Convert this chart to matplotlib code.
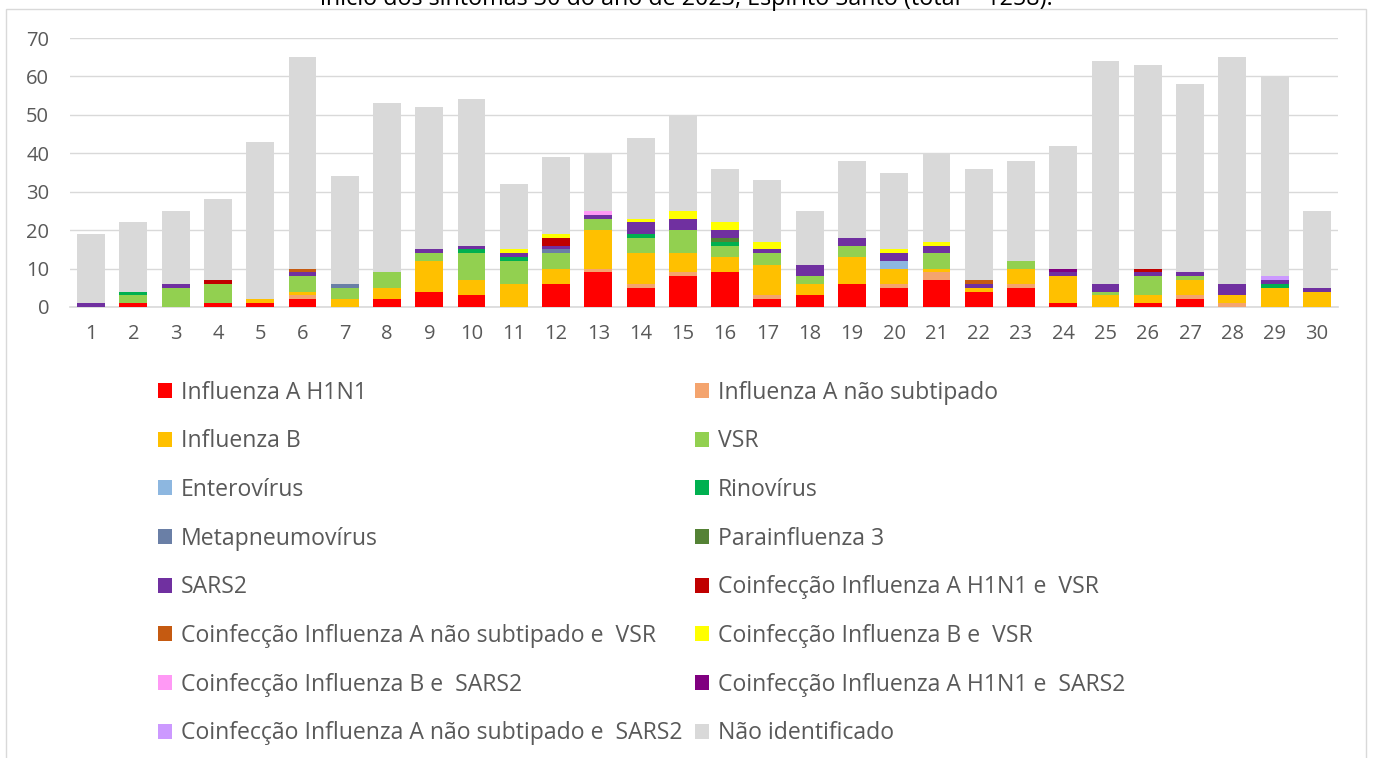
import matplotlib
matplotlib.use("Agg")
import matplotlib.pyplot as plt
import numpy as np
from matplotlib.patches import Rectangle, Patch

semanas = [str(i) for i in range(1, 31)]

h1n1 = [0, 1, 0, 1, 1, 2, 0, 2, 4, 3, 0, 6, 9, 5, 8, 9, 2, 3, 6, 5, 7, 4, 5, 1, 0, 1, 2, 0, 0, 0]
a_nao_sub = [0, 0, 0, 0, 0, 1, 0, 0, 0, 0, 0, 0, 1, 1, 1, 0, 1, 0, 0, 1, 2, 0, 1, 0, 0, 0, 1, 1, 0, 0]
infl_b = [0, 0, 0, 0, 1, 1, 2, 3, 8, 4, 6, 4, 10, 8, 5, 4, 8, 3, 7, 4, 1, 1, 4, 7, 3, 2, 4, 2, 5, 4]
vsr = [0, 2, 5, 5, 0, 4, 3, 4, 2, 7, 6, 4, 3, 4, 6, 3, 3, 2, 3, 0, 4, 0, 2, 0, 1, 5, 1, 0, 0, 0]
entero = [0, 0, 0, 0, 0, 0, 0, 0, 0, 0, 0, 0, 0, 0, 0, 0, 0, 0, 0, 2, 0, 0, 0, 0, 0, 0, 0, 0, 0, 0]
rino = [0, 1, 0, 0, 0, 0, 0, 0, 0, 1, 1, 0, 0, 1, 0, 1, 0, 0, 0, 0, 0, 0, 0, 0, 0, 0, 0, 0, 1, 0]
metapneumo = [0, 0, 0, 0, 0, 0, 1, 0, 0, 0, 0, 1, 0, 0, 0, 0, 0, 0, 0, 0, 0, 0, 0, 0, 0, 0, 0, 0, 0, 0]
parainf3 = [0, 0, 0, 0, 0, 0, 0, 0, 0, 0, 0, 0, 0, 0, 0, 1, 0, 0, 0, 0, 0, 0, 0, 0, 0, 0, 0, 0, 0, 0]
sars2 = [1, 0, 1, 0, 0, 1, 0, 0, 1, 1, 1, 1, 1, 3, 3, 2, 1, 3, 2, 2, 2, 1, 0, 1, 2, 1, 1, 3, 1, 1]
co_h1n1_vsr = [0, 0, 0, 1, 0, 0, 0, 0, 0, 0, 0, 2, 0, 0, 0, 0, 0, 0, 0, 0, 0, 0, 0, 0, 0, 1, 0, 0, 0, 0]
co_ans_vsr = [0, 0, 0, 0, 0, 1, 0, 0, 0, 0, 0, 0, 0, 0, 0, 0, 0, 0, 0, 0, 0, 1, 0, 0, 0, 0, 0, 0, 0, 0]
co_b_vsr = [0, 0, 0, 0, 0, 0, 0, 0, 0, 0, 1, 1, 0, 1, 2, 2, 2, 0, 0, 1, 1, 0, 0, 0, 0, 0, 0, 0, 0, 0]
co_b_sars2 = [0, 0, 0, 0, 0, 0, 0, 0, 0, 0, 0, 0, 1, 0, 0, 0, 0, 0, 0, 0, 0, 0, 0, 0, 0, 0, 0, 0, 0, 0]
co_h1n1_sars2 = [0, 0, 0, 0, 0, 0, 0, 0, 0, 0, 0, 0, 0, 0, 0, 0, 0, 0, 0, 0, 0, 0, 0, 1, 0, 0, 0, 0, 0, 0]
co_ans_sars2 = [0, 0, 0, 0, 0, 0, 0, 0, 0, 0, 0, 0, 0, 0, 0, 0, 0, 0, 0, 0, 0, 0, 0, 0, 0, 0, 0, 0, 1, 0]
nao_ident = [18, 18, 19, 21, 41, 55, 28, 44, 37, 38, 17, 20, 15, 21, 25, 14, 16, 14, 20, 20, 23, 29, 26, 32, 58, 53, 49, 59, 52, 20]

series = [
    ("Influenza A H1N1", h1n1, "#FF0000"),
    ("Influenza A não subtipado", a_nao_sub, "#F4A46E"),
    ("Influenza B", infl_b, "#FFC000"),
    ("VSR", vsr, "#92D050"),
    ("Enterovírus", entero, "#8DB7E0"),
    ("Rinovírus", rino, "#00B050"),
    ("Metapneumovírus", metapneumo, "#6A7FA6"),
    ("Parainfluenza 3", parainf3, "#548235"),
    ("SARS2", sars2, "#7030A0"),
    ("Coinfecção Influenza A H1N1 e  VSR", co_h1n1_vsr, "#C00000"),
    ("Coinfecção Influenza A não subtipado e  VSR", co_ans_vsr, "#C55A11"),
    ("Coinfecção Influenza B e  VSR", co_b_vsr, "#FFFF00"),
    ("Coinfecção Influenza B e  SARS2", co_b_sars2, "#FF99F5"),
    ("Coinfecção Influenza A H1N1 e  SARS2", co_h1n1_sars2, "#800080"),
    ("Coinfecção Influenza A não subtipado e  SARS2", co_ans_sars2, "#CC99FF"),
    ("Não identificado", nao_ident, "#D9D9D9"),
]

plt.rcParams['font.family'] = ['Open Sans', 'DejaVu Sans']
texto = '#595959'

W, H = 1373, 758
fig = plt.figure(figsize=(W / 100, H / 100), dpi=100)
ax = fig.add_axes([70 / W, 1 - 307 / H, (1338 - 70) / W, (307 - 38) / H])

# borda do grafico
fig.patches.append(Rectangle((6 / W, -0.1), (1366 - 6) / W, 1.1 - 9 / H,
                             transform=fig.transFigure, fill=False,
                             edgecolor='#D9D9D9', linewidth=1))

x = np.arange(1, 31)
base = np.zeros(30)
for nome, vals, cor in series:
    vals = np.array(vals)
    ax.bar(x, vals, width=0.66, bottom=base, color=cor, label=nome, zorder=3)
    base = base + vals

ax.set_xlim(0.5, 30.5)
ax.set_ylim(0, 70)
ax.set_yticks(range(0, 71, 10))
ax.set_xticks(x)
ax.set_xticklabels(semanas)
ax.grid(axis='y', color='#D9D9D9', linewidth=1, zorder=0)
for s in ['top', 'right', 'left']:
    ax.spines[s].set_visible(False)
ax.spines['bottom'].set_color('#D9D9D9')
ax.spines['bottom'].set_linewidth(1.2)
ax.tick_params(axis='both', length=0, labelsize=14.5, colors=texto)
ax.tick_params(axis='y', pad=15)
ax.tick_params(axis='x', pad=12)

fig.text(0.5, 1 - 5 / H,
         "início dos sintomas 30 do ano de 2023, Espírito Santo (total = 1258).",
         ha='center', va='baseline', fontsize=16.8, color='black')

handles = [Patch(facecolor=c, edgecolor='none') for _, _, c in series]
labels = [n for n, _, _ in series]
ordem = list(range(0, 16, 2)) + list(range(1, 16, 2))
fig.legend([handles[i] for i in ordem], [labels[i] for i in ordem],
           ncol=2, loc='upper left', bbox_to_anchor=(146 / W, 1 - 369 / H),
           frameon=False, fontsize=16.6, labelcolor=texto, borderpad=0,
           handlelength=0.62, handleheight=0.62, handletextpad=0.4,
           labelspacing=1.07, columnspacing=0.52)

fig.savefig("out.png", dpi=100)
